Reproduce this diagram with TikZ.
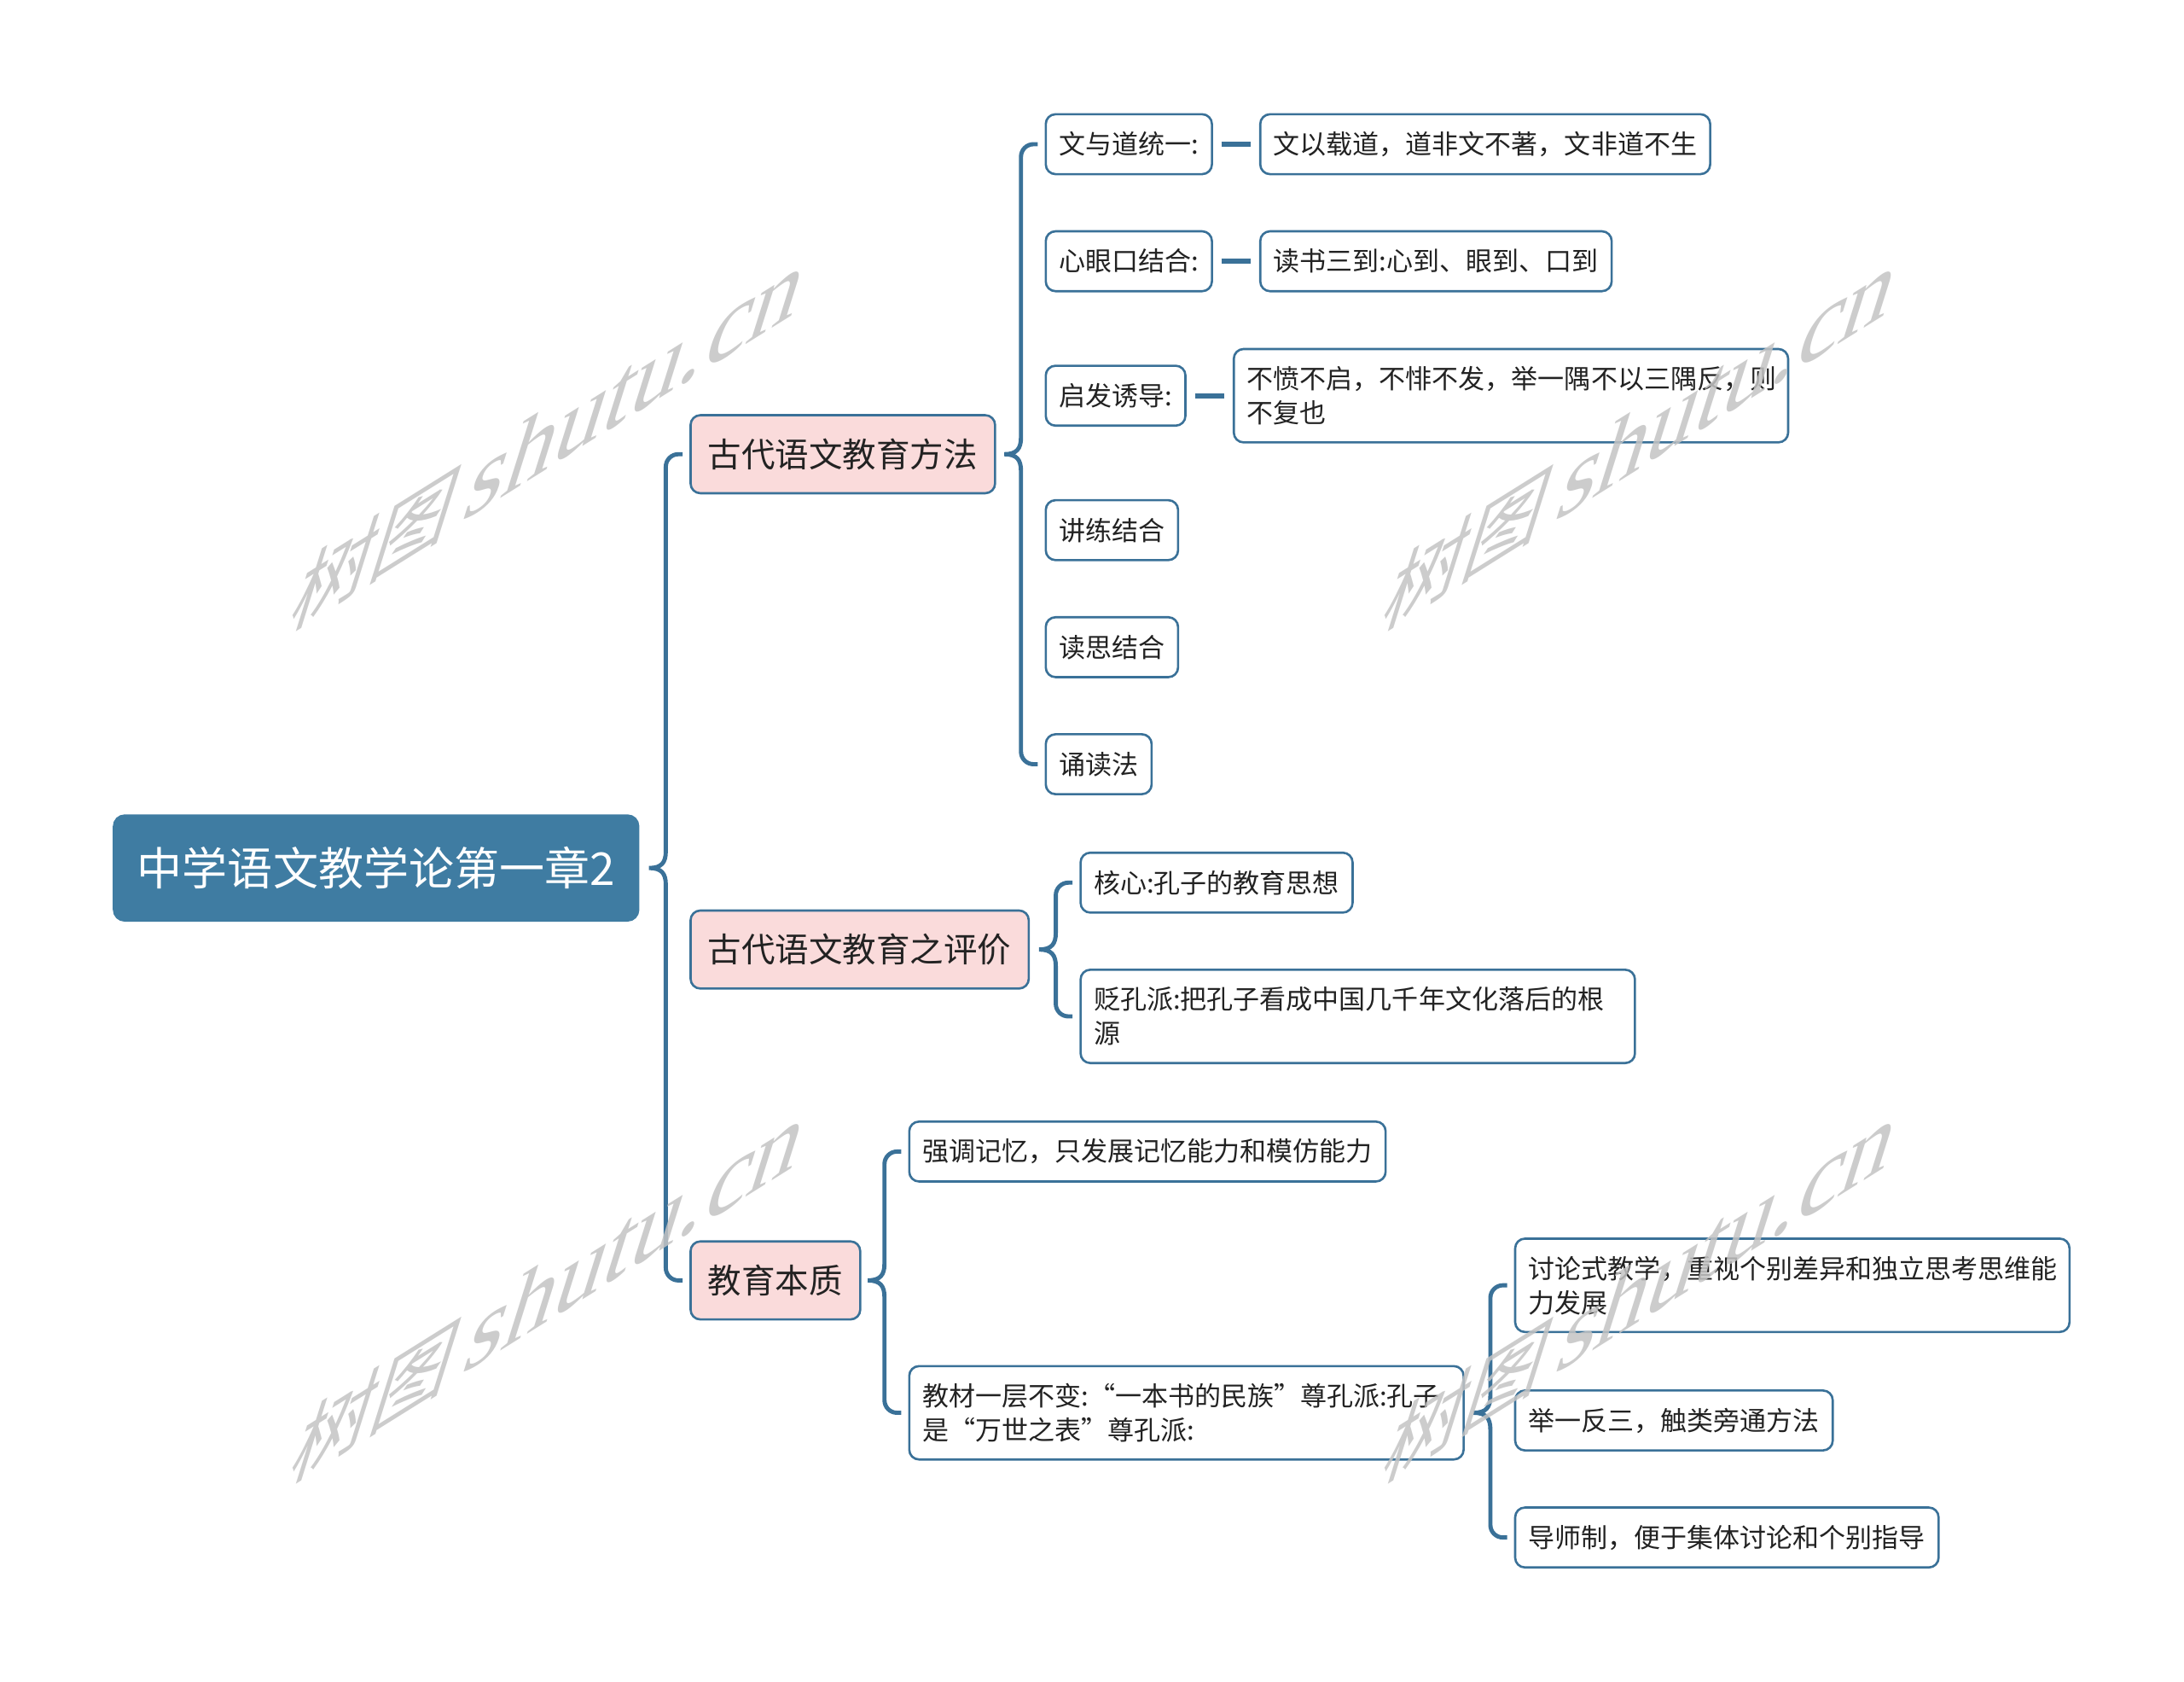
\documentclass[tikz,border=0pt]{standalone}
\usepackage{fontspec}
\setmainfont{Noto Sans CJK SC}
\newfontfamily\wmlatin{Liberation Serif}
\usetikzlibrary{calc}
\definecolor{lineblue}{HTML}{3A7198}
\definecolor{rootblue}{HTML}{3F7CA2}
\definecolor{pinkfill}{HTML}{FADBDB}
\definecolor{wmgray}{HTML}{C4C4C4}
\definecolor{txt}{HTML}{222222}
% brace from parent #1 to children #2 (first) .. #3 (last)
\newcommand\mmbrace[3]{%
  \draw[conn] let \p1=(#1.east), \p2=(#2.west), \p3=(#3.west) in
   (\x2-5pt,\y2) -- (\x2-8pt,\y2)
   arc[start angle=90,end angle=180,radius=9pt]
   -- (\x2-17pt,\y1+12pt)
   .. controls (\x2-17pt,\y1+4pt) and (\x2-20pt,\y1) .. (\x2-29pt,\y1)
   .. controls (\x2-20pt,\y1) and (\x2-17pt,\y1-4pt) .. (\x2-17pt,\y1-12pt)
   -- (\x3-17pt,\y3+9pt)
   arc[start angle=180,end angle=270,radius=9pt]
   -- (\x3-5pt,\y3);}
\begin{document}
\begin{tikzpicture}[x=1pt,y=-1pt,
  rootbox/.style={fill=rootblue, draw=rootblue, line width=1pt, rounded corners=8pt,
    text=white, font=\fontsize{32.5}{36}\selectfont, inner xsep=17pt,
    minimum height=76pt, anchor=west},
  midbox/.style={fill=pinkfill, draw=lineblue, line width=1.6pt, rounded corners=7pt,
    text=txt, font=\fontsize{24.2}{28}\selectfont, inner xsep=12.5pt,
    minimum height=56pt, anchor=west},
  leafbox/.style={fill=white, draw=lineblue, line width=1.6pt, rounded corners=7pt,
    text=txt, font=\fontsize{19}{24.5}\selectfont, inner xsep=9.5pt, inner ysep=3pt,
    minimum height=43pt, anchor=west, align=left},
  tallbox/.style={leafbox, text width=379pt, minimum height=67pt},
  conn/.style={draw=lineblue, line width=3pt},
  stub/.style={draw=lineblue, line width=3.6pt},
  wm/.style={text=wmgray, text opacity=0.85, inner sep=0pt,
    cm={0.848,0.530,0.300,0.954,(0,0)}}
]
\fill[white] (0,0) rectangle (1568,1207);
\path[use as bounding box] (0,0) rectangle (1568,1207);

% root
\node[rootbox] (root) at (81,623) {中学语文教学论第一章2};

% level 1
\node[midbox] (m1) at (495,326) {古代语文教育方法};
\node[midbox] (m2) at (495,681.5) {古代语文教育之评价};
\node[midbox] (m3) at (495,919) {教育本质};

% children of m1
\node[leafbox] (a1) at (750,103.5) {文与道统一:};
\node[leafbox] (a1b) at (904,103.5) {文以载道，道非文不著，文非道不生};
\node[leafbox] (a2) at (750,187.5) {心眼口结合:};
\node[leafbox] (a2b) at (904,187.5) {读书三到:心到、眼到、口到};
\node[leafbox] (a3) at (750,284) {启发诱导:};
\node[tallbox] (a3b) at (885,284) {不愤不启，不悱不发，举一隅不以三隅反，则\\不复也};
\node[leafbox] (a4) at (750,380.5) {讲练结合};
\node[leafbox] (a5) at (750,464.5) {读思结合};
\node[leafbox] (a6) at (750,548.5) {诵读法};

% children of m2
\node[leafbox] (b1) at (775,633.5) {核心:孔子的教育思想};
\node[tallbox] (b2) at (775,729.5) {贬孔派:把孔子看成中国几千年文化落后的根\\源};

% children of m3
\node[leafbox] (c1) at (652,826.5) {强调记忆，只发展记忆能力和模仿能力};
\node[tallbox] (c2) at (652,1014) {教材一层不变:“一本书的民族”尊孔派:孔子\\是“万世之表”尊孔派:};

% children of c2
\node[tallbox] (d1) at (1087,922.5) {讨论式教学，重视个别差异和独立思考思维能\\力发展};
\node[leafbox] (d2) at (1087,1019.5) {举一反三，触类旁通方法};
\node[leafbox] (d3) at (1087,1103.5) {导师制，便于集体讨论和个别指导};

% connectors
\mmbrace{root}{m1}{m3}
\mmbrace{m1}{a1}{a6}
\mmbrace{m2}{b1}{b2}
\mmbrace{m3}{c1}{c2}
\mmbrace{c2}{d1}{d3}
\draw[stub] ([xshift=6pt]a1.east) -- ([xshift=-6pt]a1b.west);
\draw[stub] ([xshift=6pt]a2.east) -- ([xshift=-6pt]a2b.west);
\draw[stub] ([xshift=6pt]a3.east) -- ([xshift=-6pt]a3b.west);

% watermarks
\foreach \n/\px/\py in {w1/395/315, w2/1179/315, w3/395/927, w4/1179/927}{
  \node[wm] (\n) at (\px,\py) {\fontsize{68}{68}\selectfont 树图\hspace{12pt}{\wmlatin\fontsize{84}{84}\selectfont shutu.cn}};
}
\end{tikzpicture}
\end{document}
